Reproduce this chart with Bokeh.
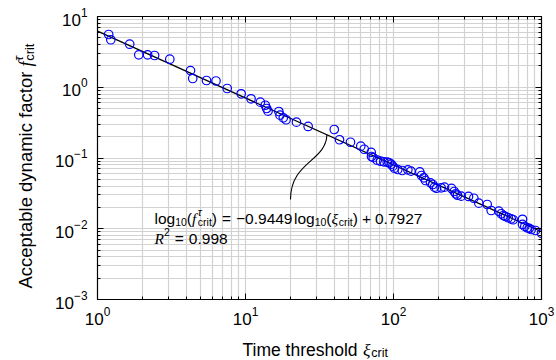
import numpy as np
from math import pi
from bokeh.plotting import figure
from bokeh.layouts import column, row
from bokeh.models import Label, FixedTicker, LogAxis, Range1d, CustomJSTickFormatter
from bokeh.embed import file_html
from bokeh.resources import INLINE

# ---------------- data ----------------
xi_crit = [1.19, 1.23, 1.65, 1.90, 2.18, 2.43, 3.08, 4.25, 4.40, 5.45, 6.32, 7.52, 9.35,
           10.9, 12.6, 13.6, 13.9, 14.2, 16.8, 17.1, 18.0, 18.8, 22.1, 26.5, 39.8, 43.2,
           51.2, 60.1, 63.4, 70.7, 71.0, 72.9, 77.6, 81.7, 86.0, 90.7, 93.5, 96.5, 98.9,
           101.6, 106.9, 114.5, 125.0, 131.3, 150.6, 154.6, 160.2, 164.5, 177.8, 184.3,
           189.2, 195.2, 210.1, 221.1, 246.6, 257.1, 263.6, 270.7, 286.7, 321.2, 348.9,
           377.1, 429.6, 457.2, 514.6, 534.2, 553.6, 571.2, 595.7, 624.2, 643.9, 744.1,
           744.1, 771.3, 800.6, 826.0, 852.1, 911.0, 1000.0]
f_crit = [5.57, 4.69, 4.06, 2.87, 2.87, 2.81, 2.49, 1.72, 1.33, 1.245, 1.225, 0.960, 0.808,
          0.687, 0.615, 0.557, 0.501, 0.459, 0.454, 0.403, 0.370, 0.347, 0.321, 0.279, 0.253,
          0.181, 0.167, 0.147, 0.133, 0.120, 0.105, 0.101, 0.0931, 0.0901, 0.0884, 0.0872,
          0.0855, 0.0817, 0.0766, 0.0717, 0.0688, 0.0666, 0.0681, 0.0651, 0.0638, 0.0566,
          0.0525, 0.0481, 0.0446, 0.0422, 0.0387, 0.0374, 0.0379, 0.0387, 0.0371, 0.0336,
          0.0312, 0.0298, 0.0289, 0.0286, 0.0270, 0.0230, 0.0220, 0.0181, 0.0177, 0.0163,
          0.0154, 0.0149, 0.0143, 0.0138, 0.0134, 0.0136, 0.0115, 0.0108, 0.0103, 0.0101,
          0.00976, 0.00945, 0.00865]
fit_slope = -0.9449
fit_intercept = 0.7927
r_squared = "0.998"
x_ticks = [1, 10, 100, 1000]
y_ticks = [1e-3, 1e-2, 1e-1, 1, 10]
x_range = (1, 1000)
y_range = (1e-3, 10)
annot_target_x = 35.5        # point on the fit line the connector points to

# ---------------- layout (page pixels) ----------------
W, H = 556, 360
FL, FT, FW, FH = 97, 16, 444, 283      # frame left/top/width/height on the page
YLW, XLH = 40, 26                      # strip widths holding the axis titles
MW, MH = W - YLW, H - XLH              # main figure size
SANS = "Liberation Sans"
SERIF = "Liberation Serif"

def minor(ticks):
    out = []
    for t in ticks[:-1]:
        out += [k * t for k in range(2, 10)]
    return out

p = figure(width=MW, height=MH, x_axis_type="log", y_axis_type="log",
           x_range=Range1d(*x_range), y_range=Range1d(*y_range),
           output_backend="svg", toolbar_location=None,
           min_border_left=FL - YLW, min_border_right=W - FL - FW,
           min_border_top=FT, min_border_bottom=MH - FT - FH)
p.background_fill_color = "white"
p.border_fill_color = "white"
p.outline_line_color = "black"

xt = FixedTicker(ticks=x_ticks, minor_ticks=minor(x_ticks))
yt = FixedTicker(ticks=y_ticks, minor_ticks=minor(y_ticks))
p.xaxis.ticker = xt
p.yaxis.ticker = yt

for g in (p.xgrid[0], p.ygrid[0]):
    g.grid_line_color = "#d2d2d2"
    g.grid_line_width = 1.2
    g.minor_grid_line_color = "#d2d2d2"
    g.minor_grid_line_width = 1.2

def style_axis(ax, labels=True, standoff=8):
    ax.axis_line_color = "black"
    ax.axis_line_width = 1.2
    ax.major_tick_line_color = "black"
    ax.minor_tick_line_color = "black"
    ax.major_tick_in = 6
    ax.major_tick_out = 0
    ax.minor_tick_in = 3
    ax.minor_tick_out = 0
    ax.major_label_text_font = SANS
    ax.major_label_text_color = "black"
    if labels:
        ax.major_label_text_font_size = "17px"
        ax.major_label_standoff = standoff
    else:
        ax.formatter = CustomJSTickFormatter(code="return ''")
        ax.major_label_text_font_size = "2px"
        ax.major_label_standoff = 0

style_axis(p.xaxis[0], True, 7)
style_axis(p.yaxis[0], True, 10)
top = LogAxis(ticker=xt)
right = LogAxis(ticker=yt)
style_axis(top, False)
style_axis(right, False)
p.add_layout(top, "above")
p.add_layout(right, "right")

# ---------------- marks ----------------
x_fit = np.array(x_range, dtype=float)
y_fit = 10 ** (fit_slope * np.log10(x_fit) + fit_intercept)
p.line(x_fit, y_fit, line_color="black", line_width=1.3)
p.scatter(xi_crit, f_crit, marker="circle", size=8.5, fill_color=None,
          line_color="#0000ff", line_width=1.2)

# ---------------- text helpers ----------------
def to_data(px, py):
    lx0, lx1 = np.log10(x_range)
    ly0, ly1 = np.log10(y_range)
    x = 10 ** (lx0 + (px - FL) / FW * (lx1 - lx0))
    y = 10 ** (ly1 - (py - FT) / FH * (ly1 - ly0))
    return x, y

WID = {' ': 278, '(': 333, ')': 333, '+': 584, '=': 584, '.': 278, '\u2212': 584,
       'R': 611, 'c': 500, 'f': 278, 'g': 556, 'i': 222, 'l': 222, 'o': 556, 'r': 333,
       't': 278, '\u03be': 470, '\u03c4': 440, 'A': 667, 'T': 611, 'a': 556, 'b': 556,
       'd': 556, 'e': 556, 'h': 556, 'm': 833, 'n': 556, 'p': 556, 's': 500, 'y': 500}

def tw(s, size):
    return sum(WID.get(ch, 556) for ch in s) * size / 1000.0

def main_put(px, py, text, size, font=SANS, style="normal"):
    p.add_layout(Label(x=x_range[0], y=y_range[0], x_offset=px - FL, y_offset=(FT + FH) - py,
                       text=text, text_font=font, text_font_size=f"{size}px",
                       text_font_style=style, text_align="left",
                       text_baseline="alphabetic", text_color="black"))

def line_of(put, x0, y0, pieces):
    cx = x0
    for pc in pieces:
        kind = pc[0]
        if kind == "sp":
            cx += pc[1]
        elif kind == "t":
            _, text, size, font, style, shift = pc
            put(cx, y0 - shift, text, size, font, style)
            cx += tw(text, size)
        elif kind == "ss":
            _, sup, sub, size, supfont, subfont = pc
            wsup = 0
            if sup:
                put(cx, y0 - 6.5, sup, size, supfont, "italic")
                wsup = tw(sup, size)
            put(cx, y0 + 3.5, sub, size, subfont, "normal")
            cx += max(wsup, tw(sub, size))
    return cx

# annotation text
S, s = 15.5, 10.5
line_of(main_put, 154, 218, [
    ("t", "log", S, SANS, "normal", 0), ("t", "10", s, SANS, "normal", -3.5),
    ("t", "(", S, SANS, "normal", 0), ("t", "f", S, SERIF, "italic", 0), ("sp", 1.5),
    ("ss", "\u03c4", "crit", s, SANS, SANS),
    ("t", ")", S, SANS, "normal", 0), ("sp", 5), ("t", "=", S, SANS, "normal", 0), ("sp", 5),
    ("t", "\u22120.9449", S, SANS, "normal", 0), ("sp", 1.5),
    ("t", "log", S, SANS, "normal", 0), ("t", "10", s, SANS, "normal", -3.5),
    ("t", "(", S, SANS, "normal", 0), ("t", "\u03be", S, SERIF, "italic", 0),
    ("ss", None, "crit", s, SERIF, SANS),
    ("t", ")", S, SANS, "normal", 0), ("sp", 4), ("t", "+", S, SANS, "normal", 0), ("sp", 4),
    ("t", f"{fit_intercept:.4f}", S, SANS, "normal", 0),
])
line_of(main_put, 154, 238, [
    ("t", "R", S, SERIF, "italic", 0), ("t", "2", s, SANS, "normal", 6.5),
    ("sp", 5), ("t", "=", S, SANS, "normal", 0), ("sp", 5),
    ("t", r_squared, S, SANS, "normal", 0),
])

# connector curve from the text to the fit line
tx, ty = to_data(290, 199)
ex = annot_target_x
ey = 10 ** (fit_slope * np.log10(ex) + fit_intercept)
_, cy = to_data(0, 161)
p.bezier(x0=[tx], y0=[ty], x1=[ex], y1=[ey], cx0=[tx], cy0=[cy], cx1=[ex * 0.985], cy1=[cy],
         line_color="black", line_width=1.1)

# ---------------- axis title strips ----------------
def strip(w, h):
    f = figure(width=w, height=h, x_range=Range1d(0, w), y_range=Range1d(0, h),
               output_backend="svg", toolbar_location=None, min_border=0,
               x_axis_location=None, y_axis_location=None)
    f.grid.visible = False
    f.outline_line_color = None
    f.background_fill_color = "white"
    f.border_fill_color = "white"
    return f

# y title strip: page x 0..YLW, page y 0..MH
ys = strip(YLW, MH)
def ys_put(px, py, text, size, font=SANS, style="normal", align="left"):
    ys.add_layout(Label(x=px, y=MH - py, text=text, text_font=font, text_font_size=f"{size}px",
                        text_font_style=style, text_align=align, text_baseline="alphabetic",
                        angle=pi / 2, text_color="black"))

YL, YS = 18.5, 13
bx = 25
junction = 59          # page y where the italic f starts (text reads bottom to top)
ys_put(bx, junction, "Acceptable dynamic factor ", YL, align="right")
ys_put(bx, junction, "f", YL, SERIF, "italic")
j2 = junction - tw("f", YL) - 1.5
ys_put(bx - 7.5, j2, "\u03c4", YS, SANS, "italic")
ys_put(bx + 4, j2, "crit", YS, SANS, "normal")

# x title strip: page x 0..W, page y MH..H
xs = strip(W, XLH)
def xs_put(px, py, text, size, font=SANS, style="normal"):
    xs.add_layout(Label(x=px, y=H - py, text=text, text_font=font, text_font_size=f"{size}px",
                        text_font_style=style, text_align="left", text_baseline="alphabetic",
                        text_color="black"))

XL = 17.5
line_of(xs_put, 242, 349, [
    ("t", "Time threshold ", XL, SANS, "normal", 0), ("t", "\u03be", XL, SERIF, "italic", 0),
    ("ss", None, "crit", 12.5, SERIF, SANS),
])

layout = column(row(ys, p, spacing=0), xs, spacing=0)
open("out.html", "w").write(file_html(layout, INLINE))
